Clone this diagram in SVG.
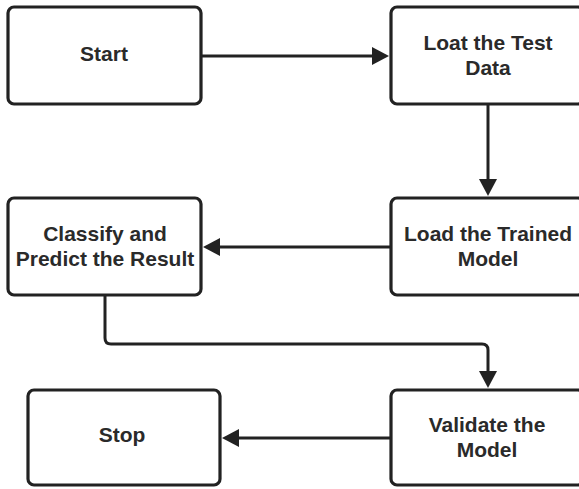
<svg xmlns="http://www.w3.org/2000/svg" width="579" height="489" viewBox="0 0 579 489">
<style>
.box{fill:#ffffff;stroke:#222222;stroke-width:3.2}
.lbl{font-family:"Liberation Sans",Arial,sans-serif;font-weight:bold;font-size:21px;fill:#2a2a2a;text-anchor:middle}
.conn{fill:none;stroke:#222222;stroke-width:3}
</style>
<defs>
<marker id="arr" markerUnits="userSpaceOnUse" markerWidth="18" markerHeight="19" refX="0" refY="9" orient="auto">
<path d="M0,0 L17,9 L0,18 Z" fill="#222222"/>
</marker>
</defs>
<rect width="579" height="489" fill="#ffffff"/>
<g id="start">
<rect class="box" x="8" y="7" width="193" height="97" rx="6"/>
<text class="lbl" x="104" y="61">Start</text>
</g>
<g id="load-test">
<rect class="box" x="391" y="7" width="193" height="97" rx="6"/>
<text class="lbl" x="488" y="50">Loat the Test</text>
<text class="lbl" x="488" y="75">Data</text>
</g>
<g id="load-trained">
<rect class="box" x="391" y="198" width="193" height="97" rx="6"/>
<text class="lbl" x="488" y="241">Load the Trained</text>
<text class="lbl" x="488" y="266">Model</text>
</g>
<g id="classify">
<rect class="box" x="8" y="198" width="193" height="97" rx="6"/>
<text class="lbl" x="105" y="241">Classify and</text>
<text class="lbl" x="105" y="266">Predict the Result</text>
</g>
<g id="validate">
<rect class="box" x="391" y="390" width="193" height="95" rx="6"/>
<text class="lbl" x="487" y="432">Validate the</text>
<text class="lbl" x="487" y="457">Model</text>
</g>
<g id="stop">
<rect class="box" x="28" y="390" width="192" height="95" rx="6"/>
<text class="lbl" x="122" y="442">Stop</text>
</g>
<g id="connectors">
<path class="conn" d="M202,56 H372" marker-end="url(#arr)"/>
<path class="conn" d="M488,105 V179" marker-end="url(#arr)"/>
<path class="conn" d="M390,247 H220" marker-end="url(#arr)"/>
<path class="conn" d="M105,296 V338 Q105,344 111,344 H482 Q488,344 488,350 V371" marker-end="url(#arr)"/>
<path class="conn" d="M390,438 H239" marker-end="url(#arr)"/>
</g>
</svg>
